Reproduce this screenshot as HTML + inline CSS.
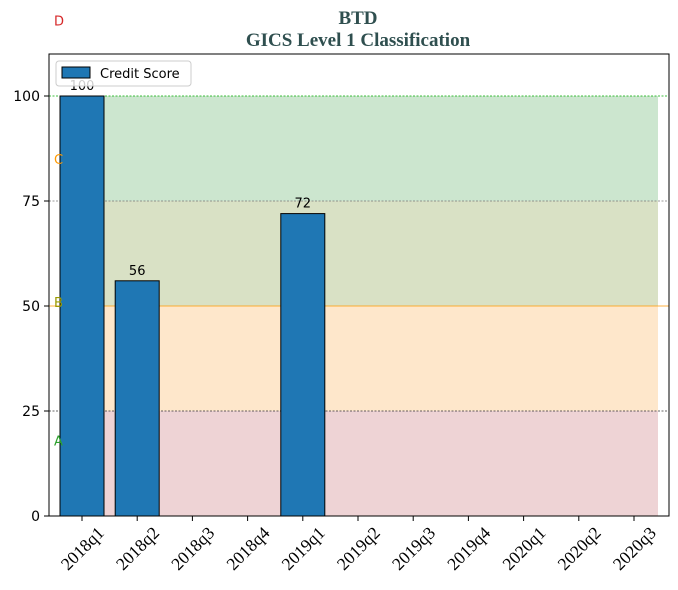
<!DOCTYPE html>
<html><head><meta charset="utf-8"><style>
body{margin:0;background:#fff;}
svg text{font-family:"DejaVu Sans","Liberation Sans",sans-serif;}
</style></head><body>
<svg id="chart" width="678" height="585" xmlns="http://www.w3.org/2000/svg">
<text x="358" y="24" text-anchor="middle" style="font-family:'Liberation Serif',serif" font-weight="bold" font-size="19" fill="#2f4f4f">BTD</text>
<text x="358" y="46" text-anchor="middle" style="font-family:'Liberation Serif',serif" font-weight="bold" font-size="19" fill="#2f4f4f">GICS Level 1 Classification</text>
<g id="bands"></g><g id="lines"></g><g id="bars"></g><g id="axes"></g>
<rect x="49" y="54" width="620" height="462" fill="none" stroke="#000" stroke-width="1"/>
<g>
<rect x="56" y="61" width="135" height="25" rx="3" fill="#fff" fill-opacity="0.8" stroke="#ccc"/>
<rect x="62" y="67" width="28" height="11" fill="#1f77b4" stroke="#000"/>
<text x="100" y="78" font-size="13" fill="#000">Credit Score</text>
</g>
</svg>
<script>
const categories=["2018q1","2018q2","2018q3","2018q4","2019q1","2019q2","2019q3","2019q4","2020q1","2020q2","2020q3"];
const scores=[100,56,null,null,72,null,null,null,null,null,null];
const yTicks=[0,25,50,75,100];
const bandEdges=[0,25,50,75,100];
const bandColors=["#eed3d5","#fee7cb","#d9e1c5","#cce6cf"];
const lineColors=["#333","#333","#ff9900","#777","#00aa00"];
const grades=["A","B","C","D"];
const gradeY=[18,51,85,118];
const gradeColors=["#2ca02c","#9a9a00","#ff9900","#d62728"];
const NS="http://www.w3.org/2000/svg";
const x=i=>82+i*55.2, y=v=>516-v*4.2;
function mk(t,a,p){const e=document.createElementNS(NS,t);for(const k in a)e.setAttribute(k,a[k]);document.getElementById(p).appendChild(e);return e;}
const bx0=x(0)-22, bx1=x(categories.length-1)+24;
for(let i=0;i<bandColors.length;i++){
 const r=mk("rect",{x:bx0,y:y(bandEdges[i+1]),width:bx1-bx0,height:y(bandEdges[i])-y(bandEdges[i+1]),fill:bandColors[i]},"bands");
 
 
}
for(let i=1;i<bandEdges.length;i++){
 const l=mk("line",{x1:49,x2:669,y1:y(bandEdges[i]),y2:y(bandEdges[i]),stroke:lineColors[i],"stroke-width":0.8,"stroke-dasharray":i==2?"":"2,1.5"},"lines");
 
 
}
grades.forEach((g,i)=>{
 const t=mk("text",{x:54,y:y(gradeY[i])+5,"font-size":13,fill:gradeColors[i]},"axes");t.textContent=g;
 
 
});
scores.forEach((v,i)=>{
 if(v==null)return;
 const b=mk("rect",{x:x(i)-22,y:y(v),width:44,height:y(0)-y(v),fill:"#1f77b4",stroke:"#000","stroke-width":1},"bars");
 
 
 const t=mk("text",{x:x(i),y:y(v)-6,"text-anchor":"middle","font-size":13},"bars");t.textContent=v;
 
 
});
yTicks.forEach(v=>{
 const l=mk("line",{x1:44,x2:49,y1:y(v),y2:y(v),stroke:"#000"},"axes");
 
 
 const t=mk("text",{x:40,y:y(v)+5,"text-anchor":"end","font-size":14},"axes");t.textContent=v;
 
 
});
categories.forEach((c,i)=>{
 const l=mk("line",{x1:x(i),x2:x(i),y1:516,y2:521,stroke:"#000"},"axes");
 
 
 const cx=x(i)+1, cy=549;
 const t=mk("text",{x:cx,y:cy+5,"text-anchor":"middle","font-size":17.5,style:"font-family:'Liberation Serif',serif",transform:`rotate(-45 ${cx} ${cy})`},"axes");t.textContent=c;
 
 
});
</script>
</body></html>
